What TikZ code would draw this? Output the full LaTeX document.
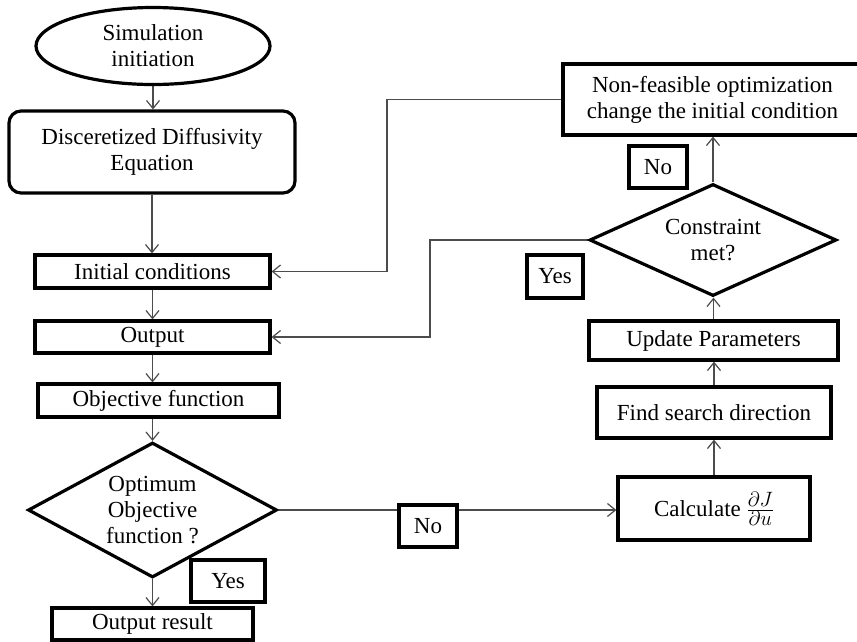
\documentclass[tikz,border=0pt]{standalone}
\usepackage{fontspec}
\setmainfont{Liberation Serif}
\usetikzlibrary{shapes.geometric,arrows.meta,backgrounds}
\begin{document}
\begin{tikzpicture}[x=1pt,y=-1pt,
  every node/.style={font=\fontsize{23}{26}\selectfont},
  box/.style={draw=black,line width=3.2pt,fill=white,rectangle,inner sep=0pt,align=center},
  rbox/.style={box,rounded corners=12pt},
  ellbox/.style={draw=black,line width=3.2pt,fill=white,ellipse,inner sep=0pt,align=center},
  dia/.style={draw=black,line width=3.2pt,fill=white,diamond,inner sep=0pt,align=center},
  lbl/.style={box},
  conn/.style={draw=black!70,line width=1.2pt,-{Straight Barb[length=8pt,width=13pt,line width=1.2pt]}}]
\clip (0,0) rectangle (857,641);
% left column
\node[ellbox,minimum width=234pt,minimum height=77pt] (sim) at (153,46) {Simulation\\initiation};
\node[rbox,minimum width=286pt,minimum height=82pt] (deq) at (152,152) {Disceretized Diffusivity\\Equation};
\node[box,minimum width=235pt,minimum height=33pt] (ic) at (152.5,271.5) {Initial conditions};
\node[box,minimum width=235pt,minimum height=32pt] (out) at (152.5,337) {Output};
\node[box,minimum width=241pt,minimum height=33pt] (obj) at (158.5,400.5) {Objective function};
\node[dia,aspect=1.84,minimum width=249pt,minimum height=135pt] (opt) at (152.5,510) {Optimum\\Objective\\function ?};
\node[box,minimum width=201pt,minimum height=32pt] (res) at (152.5,624) {Output result};
% right column
\node[box,minimum width=192pt,minimum height=63pt] (calc) at (714,508.5) {Calculate {\fontsize{31}{31}\selectfont$\frac{\partial J}{\partial u}$}};
\node[box,minimum width=234pt,minimum height=51pt] (fsd) at (714,412.5) {Find search direction};
\node[box,minimum width=249pt,minimum height=39pt] (upd) at (713.5,340.5) {Update Parameters};
\node[dia,aspect=2.2,minimum width=247pt,minimum height=112pt] (con) at (713,240) {Constraint\\met?};
\node[box,minimum width=299pt,minimum height=71pt] (nf) at (712.5,99.5) {Non-feasible optimization\\change the initial condition};
% coordinates for feedback lines
\coordinate (fb1) at (387,0);
\coordinate (fb2) at (430,0);
\begin{scope}[on background layer]
\fill[white] (0,0) rectangle (857,641);
\draw[conn] (sim.south) -- (sim.south |- deq.north);
\draw[conn] (deq.south) -- (deq.south |- ic.north);
\draw[conn] (ic.south) -- (ic.south |- out.north);
\draw[conn] (out.south) -- (out.south |- obj.north);
\draw[conn] (opt.north |- obj.south) -- (opt.north);
\draw[conn] (opt.south) -- (opt.south |- res.north);
\draw[conn] (opt.east) -- (opt.east -| calc.west);
\draw[conn] (calc.north) -- (calc.north |- fsd.south);
\draw[conn] (fsd.north) -- (fsd.north |- upd.south);
\draw[conn] (upd.north) -- (upd.north |- con.south);
\draw[conn] (con.north) -- (con.north |- nf.south);
\draw[conn] (nf.west) -| (fb1 |- ic.east) -- (ic.east);
\draw[conn] (con.west) -| (fb2 |- out.east) -- (out.east);
\end{scope}
% labels
\node[lbl,minimum width=74pt,minimum height=42pt] (yes1) at (228,581) {Yes};
\node[lbl,minimum width=58pt,minimum height=42pt] (no1) at (428,526) {No};
\node[lbl,minimum width=58pt,minimum height=42pt] (no2) at (658,167) {No};
\node[lbl,minimum width=56pt,minimum height=43pt] (yes2) at (555,276.5) {Yes};
\end{tikzpicture}
\end{document}
